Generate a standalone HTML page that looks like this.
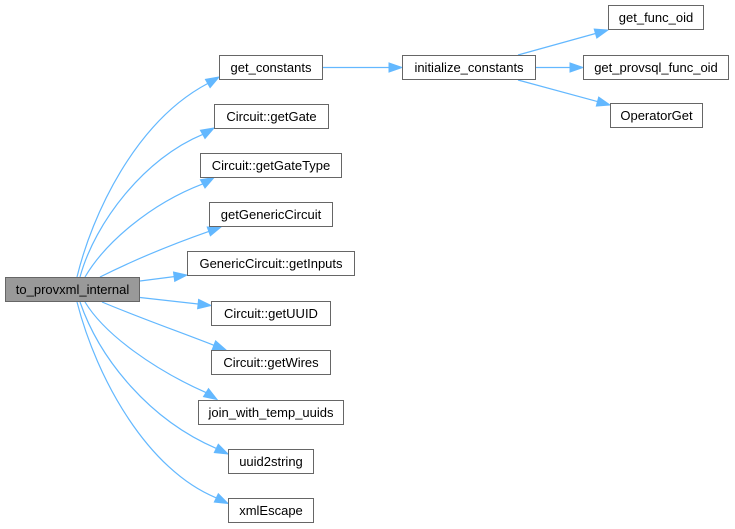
<!DOCTYPE html>
<html>
<head>
<meta charset="utf-8">
<style>
  html, body { margin: 0; padding: 0; background: #ffffff; }
  svg { display: block; }
  text { font-family: "Liberation Sans", Arial, sans-serif; font-size: 13px; fill: #000; }
</style>
</head>
<body>
<svg width="735" height="529" viewBox="0 0 735 529" xmlns="http://www.w3.org/2000/svg">
  <rect x="0" y="0" width="735" height="529" fill="#ffffff"/>

  <!-- edges -->
  <g fill="none" stroke="#63b8ff" stroke-width="1.2">
    <path d="M323,67.5 L389,67.5"/>
    <path d="M536,67.5 L570,67.5"/>
    <path d="M518,55 L595.5,33.5"/>
    <path d="M518,80 L597.5,101.6"/>

    <path d="M77,277 C92,215 135,122 207.7,83.5"/>
    <path d="M80,277 C95,222 145,158 202.7,134.4"/>
    <path d="M85,277 C105,243 150,204 202.7,183.9"/>
    <path d="M100,277 C130,262 170,245 208.8,231.4"/>
    <path d="M140,281 L174.1,276.6"/>
    <path d="M140,297.5 L198.1,304"/>
    <path d="M102,302 C140,318 180,332 213.9,345.3"/>
    <path d="M85,302 C105,335 155,370 206,392.6"/>
    <path d="M80,302 C100,360 150,420 216.3,448.4"/>
    <path d="M77,302 C97,380 148,470 216.3,497.9"/>
  </g>

  <!-- arrowheads -->
  <g fill="#63b8ff" stroke="#63b8ff" stroke-width="1">
    <polygon points="402,67.5 389,63 389,72"/>
    <polygon points="583,67.5 570,63 570,72"/>
    <polygon points="608,30 596.8,38 594.2,29"/>
    <polygon points="610,105 596.3,106.1 598.7,97.1"/>

    <polygon points="219,77 210.1,87.6 205.4,79.4"/>
    <polygon points="214,128 205,138.5 200.4,130.3"/>
    <polygon points="214,177.5 205,188 200.4,179.8"/>
    <polygon points="221,227 210.4,235.8 207.2,227"/>
    <polygon points="187,275 174.7,281.3 173.5,272"/>
    <polygon points="211,305.5 197.6,308.7 198.6,299.4"/>
    <polygon points="226,350 212.2,349.7 215.6,340.9"/>
    <polygon points="217,399.5 203.5,396.6 208.5,388.6"/>
    <polygon points="228,454 214.3,452.6 218.3,444.2"/>
    <polygon points="228,503.5 214.3,502.1 218.3,493.7"/>
  </g>

  <!-- nodes -->
  <g stroke="#666666" stroke-width="1">
    <rect x="5.5" y="277.5" width="134" height="24" fill="#999999"/>
    <rect x="219.5" y="55.5" width="103" height="24" fill="#ffffff"/>
    <rect x="214.5" y="104.5" width="114" height="24" fill="#ffffff"/>
    <rect x="200.5" y="153.5" width="141" height="24" fill="#ffffff"/>
    <rect x="209.5" y="202.5" width="123" height="24" fill="#ffffff"/>
    <rect x="187.5" y="251.5" width="167" height="24" fill="#ffffff"/>
    <rect x="211.5" y="301.5" width="119" height="24" fill="#ffffff"/>
    <rect x="211.5" y="350.5" width="119" height="24" fill="#ffffff"/>
    <rect x="198.5" y="400.5" width="145" height="24" fill="#ffffff"/>
    <rect x="228.5" y="449.5" width="85" height="24" fill="#ffffff"/>
    <rect x="228.5" y="498.5" width="85" height="24" fill="#ffffff"/>
    <rect x="402.5" y="55.5" width="133" height="24" fill="#ffffff"/>
    <rect x="608.5" y="5.5" width="95" height="24" fill="#ffffff"/>
    <rect x="583.5" y="55.5" width="145" height="24" fill="#ffffff"/>
    <rect x="610.5" y="103.5" width="92" height="24" fill="#ffffff"/>
  </g>

  <!-- labels -->
  <g text-anchor="middle">
    <text x="72.5" y="294">to_provxml_internal</text>
    <text x="271" y="72">get_constants</text>
    <text x="271.5" y="121">Circuit::getGate</text>
    <text x="271" y="170">Circuit::getGateType</text>
    <text x="271" y="219">getGenericCircuit</text>
    <text x="271" y="268">GenericCircuit::getInputs</text>
    <text x="271" y="318">Circuit::getUUID</text>
    <text x="271" y="367">Circuit::getWires</text>
    <text x="271" y="417">join_with_temp_uuids</text>
    <text x="271" y="466">uuid2string</text>
    <text x="271" y="515">xmlEscape</text>
    <text x="469" y="72">initialize_constants</text>
    <text x="656" y="22">get_func_oid</text>
    <text x="656" y="72">get_provsql_func_oid</text>
    <text x="656.5" y="120">OperatorGet</text>
  </g>
</svg>
</body>
</html>
